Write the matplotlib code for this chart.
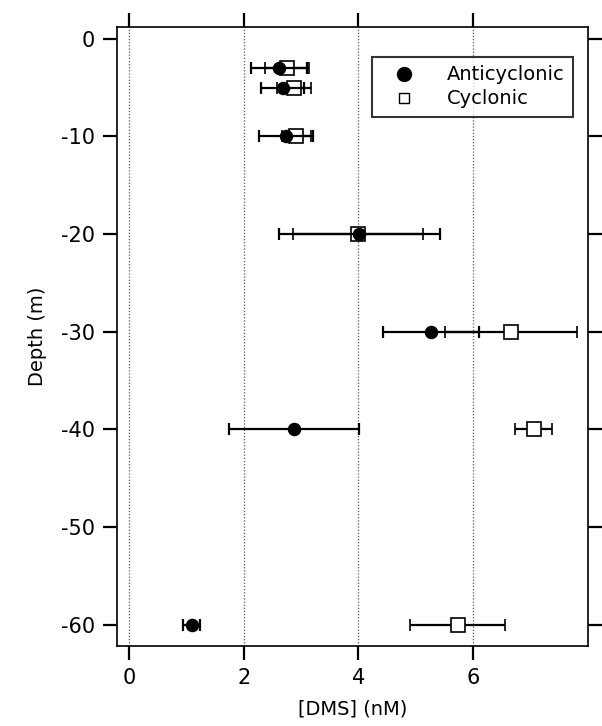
import numpy as np
import matplotlib.pyplot as plt
from matplotlib.lines import Line2D

# Profils de DMS : anticyclonique vs cyclonique
depth = np.array([-3, -5, -10, -20, -30, -40, -60])

anti_dms = np.array([2.62, 2.68, 2.74, 4.02, 5.27, 2.88, 1.09])
anti_err = np.array([0.49, 0.38, 0.47, 1.40, 0.83, 1.14, 0.14])

cyc_depth = np.array([-3, -5, -10, -20, -30, -40, -60])
cyc_dms = np.array([2.76, 2.88, 2.92, 4.00, 6.66, 7.06, 5.74])
cyc_err = np.array([0.38, 0.30, 0.25, 1.13, 1.15, 0.32, 0.83])

xticks = [0, 2, 4, 6]
yticks = [0, -10, -20, -30, -40, -50, -60]

plt.rcParams['font.family'] = ['DejaVu Sans']
plt.rcParams['axes.unicode_minus'] = False
fig = plt.figure(figsize=(6.02, 7.26), dpi=100)
ax = fig.add_axes([0.1944, 0.1102, 0.7823, 0.8526])

for x in xticks:
    ax.axvline(x, color='#555555', linestyle=(0, (1, 1.5)), linewidth=0.9, zorder=0)

ax.errorbar(cyc_dms, cyc_depth, xerr=cyc_err, fmt='s', color='black',
            markerfacecolor='white', markeredgecolor='black', markersize=10.5,
            markeredgewidth=1.2, ecolor='black', elinewidth=1.6, capsize=4.3,
            capthick=1.6, zorder=2)
ax.errorbar(anti_dms, depth, xerr=anti_err, fmt='o', color='black',
            markersize=8.7, ecolor='black', elinewidth=1.6, capsize=4.3,
            capthick=1.6, zorder=3)

ax.set_xlim(-0.21, 8.01)
ax.set_ylim(-62.2, 1.2)
ax.set_xticks(xticks)
ax.set_yticks(yticks)
ax.tick_params(direction='out', length=10, width=1.6, labelsize=15,
               top=True, right=True, pad=6)
for s in ax.spines.values():
    s.set_linewidth(1.2)

ax.set_xlabel('[DMS] (nM)', fontsize=14, labelpad=8)
ax.set_ylabel('Depth (m)', fontsize=14, labelpad=10)

handles = [Line2D([], [], linestyle='none', marker='o', color='black', markersize=10),
           Line2D([], [], linestyle='none', marker='s', markerfacecolor='white',
                  markeredgecolor='black', markersize=7, markeredgewidth=1.0)]
leg = ax.legend(handles, ['Anticyclonic', 'Cyclonic'], loc='upper right',
                bbox_to_anchor=(0.968, 0.952), borderaxespad=0, fontsize=14,
                frameon=True, fancybox=False, edgecolor='black',
                handletextpad=1.0, borderpad=0.45, labelspacing=0.25,
                handlelength=2.4)
leg.get_frame().set_linewidth(1.5)

plt.savefig('out.png', dpi=100)
